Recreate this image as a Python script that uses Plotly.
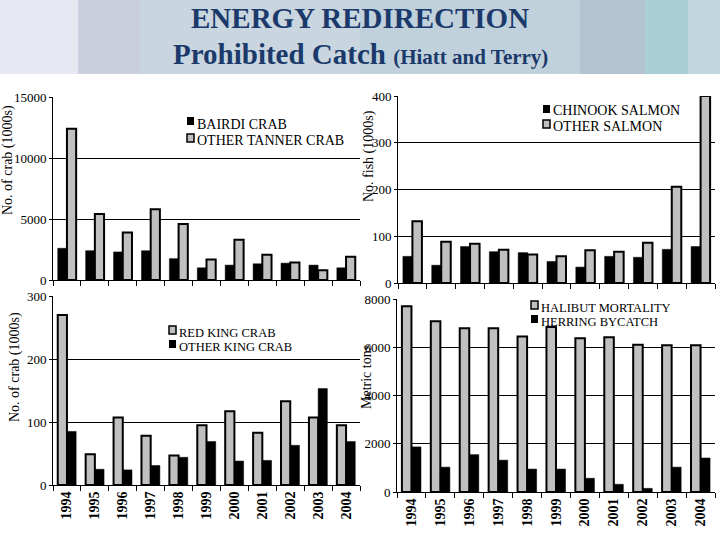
import plotly.graph_objects as go

years = ["1994", "1995", "1996", "1997", "1998", "1999", "2000", "2001", "2002", "2003", "2004"]

bairdi_crab = [2600, 2400, 2300, 2400, 1750, 1000, 1220, 1330, 1380, 1220, 1000]
other_tanner_crab = [12400, 5400, 3900, 5800, 4600, 1680, 3300, 2060, 1440, 790, 1900]

chinook_salmon = [57, 38, 78, 67, 65, 46, 34, 57, 55, 72, 78]
other_salmon = [132, 88, 84, 71, 61, 57, 70, 67, 86, 206, 400]

red_king_crab = [270, 49, 107, 78, 47, 95, 117, 83, 133, 107, 95]
other_king_crab = [85, 25, 24, 31, 44, 69, 38, 39, 63, 153, 69]

halibut_mortality = [7700, 7080, 6790, 6790, 6450, 6840, 6370, 6410, 6100, 6080, 6080]
herring_bycatch = [1870, 1030, 1550, 1320, 950, 950, 570, 320, 150, 1030, 1410]

W, H = 720, 540
SERIF = "Liberation Serif, Times New Roman, serif"
GRAY = "#c0c0c0"
NAVY = "#1b3a6b"


def px(x):
    return x / W


def py(y):
    return 1 - y / H


fig = go.Figure()


def black_bar(name, vals, xa, ya):
    return go.Bar(name=name, x=years, y=vals, xaxis=xa, yaxis=ya, showlegend=False,
                  marker=dict(color="black", line=dict(color="black", width=0.5)))


def gray_bar(name, vals, xa, ya):
    return go.Bar(name=name, x=years, y=vals, xaxis=xa, yaxis=ya, showlegend=False,
                  marker=dict(color=GRAY, line=dict(color="black", width=2)))


# Top-left
fig.add_trace(black_bar("BAIRDI CRAB", bairdi_crab, "x", "y"))
fig.add_trace(gray_bar("OTHER TANNER CRAB", other_tanner_crab, "x", "y"))
# Top-right
fig.add_trace(black_bar("CHINOOK SALMON", chinook_salmon, "x2", "y2"))
fig.add_trace(gray_bar("OTHER SALMON", other_salmon, "x2", "y2"))
# Bottom-left
fig.add_trace(gray_bar("RED KING CRAB", red_king_crab, "x3", "y3"))
fig.add_trace(black_bar("OTHER KING CRAB", other_king_crab, "x3", "y3"))
# Bottom-right
fig.add_trace(gray_bar("HALIBUT MORTALITY", halibut_mortality, "x4", "y4"))
fig.add_trace(black_bar("HERRING BYCATCH", herring_bycatch, "x4", "y4"))


def xaxis(domain, anchor, labels):
    return dict(domain=domain, anchor=anchor, type="category", automargin=False,
                showline=True, linecolor="black", linewidth=1,
                ticks="outside", tickson="boundaries", ticklen=5, tickcolor="black",
                showgrid=False, zeroline=False, showticklabels=labels,
                tickangle=-90,
                tickfont=dict(family=SERIF, size=14, color="black", weight="bold"))


def yaxis(domain, anchor, rng, dtick):
    return dict(domain=domain, anchor=anchor, range=rng, dtick=dtick, automargin=False,
                tickformat="d",
                showline=True, linecolor="black", linewidth=1,
                ticks="outside", ticklen=3, tickcolor="black",
                showgrid=True, gridcolor="black", gridwidth=1, zeroline=False,
                tickfont=dict(family=SERIF, size=13, color="black"))


d_tl_x = [px(53), px(360)]
d_tl_y = [py(280), py(97)]
d_tr_x = [px(398), px(715)]
d_tr_y = [py(283), py(96)]
d_bl_x = [px(53), px(360)]
d_bl_y = [py(485), py(296)]
d_br_x = [px(397), px(715)]
d_br_y = [py(492), py(299)]

shapes = []
bands = [(0, 78, "#e7e8f1"), (78, 140, "#cbcedd"), (140, 360, "#c9d6df"),
         (360, 580, "#c0d1db"), (580, 645, "#b3c4d1"), (645, 688, "#aacfd4"),
         (688, 720, "#c0d8dd")]
for x0, x1, c in bands:
    shapes.append(dict(type="rect", xref="paper", yref="paper",
                       x0=px(x0), x1=px(x1), y0=py(74), y1=py(0),
                       fillcolor=c, line=dict(width=0), layer="below"))

annotations = [
    dict(text="<b>ENERGY REDIRECTION</b>", x=0.5, y=py(18), xref="paper", yref="paper",
         showarrow=False, font=dict(family=SERIF, size=29, color=NAVY),
         xanchor="center", yanchor="middle"),
    dict(text="<b>Prohibited Catch</b> <b><span style='font-size:21px'>(Hiatt and Terry)</span></b>",
         x=0.5, y=py(54), xref="paper", yref="paper",
         showarrow=False, font=dict(family=SERIF, size=29, color=NAVY),
         xanchor="center", yanchor="middle"),
]

axis_titles = [
    ("No. of crab (1000s)", 8, 160),
    ("No. fish (1000s)", 369, 156),
    ("No. of crab (1000s)", 15, 367),
    ("Metric tons", 366, 377),
]
for txt, x, y in axis_titles:
    annotations.append(dict(text=txt, x=px(x), y=py(y), xref="paper", yref="paper",
                            showarrow=False, textangle=-90,
                            font=dict(family=SERIF, size=14, color="black"),
                            xanchor="center", yanchor="middle"))

# Legend keys: (label, fill colour, square left x, square top y, text centre y, font size)
legend_items = [
    ("BAIRDI CRAB", "black", 187, 117, 124, 14),
    ("OTHER TANNER CRAB", GRAY, 187, 134, 140, 14),
    ("CHINOOK SALMON", "black", 543, 105, 111, 14),
    ("OTHER SALMON", GRAY, 543, 120, 127, 14),
    ("RED KING CRAB", GRAY, 169, 326, 332.5, 12.5),
    ("OTHER KING CRAB", "black", 169, 340, 347, 12.5),
    ("HALIBUT MORTALITY", GRAY, 531, 301, 307.5, 12.5),
    ("HERRING BYCATCH", "black", 531, 315, 322, 12.5),
]
for label, col, sx, sy, ty, fs in legend_items:
    shapes.append(dict(type="rect", xref="paper", yref="paper",
                       x0=px(sx), x1=px(sx + 7), y0=py(sy + 8), y1=py(sy),
                       fillcolor=col, line=dict(color="black", width=1.5 if col == GRAY else 0)))
    annotations.append(dict(text=label, x=px(sx + 8), y=py(ty), xref="paper", yref="paper",
                            showarrow=False, xanchor="left", yanchor="middle",
                            font=dict(family=SERIF, size=fs, color="black")))

fig.update_layout(
    width=W, height=H,
    margin=dict(l=0, r=0, t=0, b=0, autoexpand=False),
    paper_bgcolor="white", plot_bgcolor="rgba(0,0,0,0)",
    barmode="group", bargap=0.34, bargroupgap=0,
    showlegend=False,
    xaxis=xaxis(d_tl_x, "y", False),
    yaxis=yaxis(d_tl_y, "x", [0, 15000], 5000),
    xaxis2=xaxis(d_tr_x, "y2", False),
    yaxis2=yaxis(d_tr_y, "x2", [0, 400], 100),
    xaxis3=xaxis(d_bl_x, "y3", True),
    yaxis3=yaxis(d_bl_y, "x3", [0, 300], 100),
    xaxis4=xaxis(d_br_x, "y4", True),
    yaxis4=yaxis(d_br_y, "x4", [0, 8000], 2000),
    shapes=shapes,
    annotations=annotations,
)

fig.write_html(
    "out.html",
    config={"displayModeBar": False},
    post_script="document.body.style.margin='0';document.body.style.padding='0';",
)
